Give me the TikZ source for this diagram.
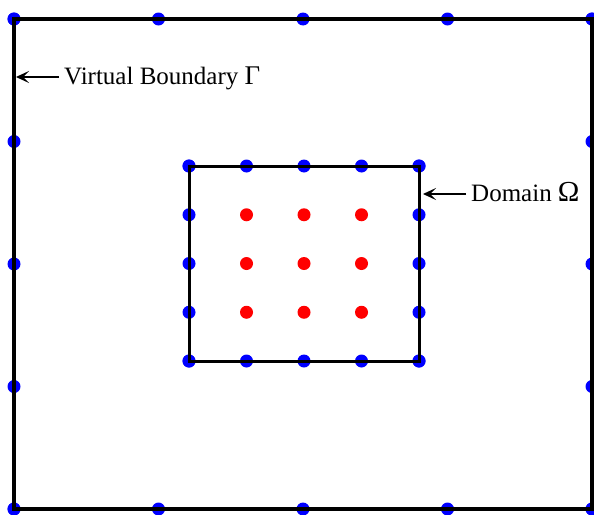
\documentclass[tikz,border=0pt]{standalone}
\usepackage{fontspec}
\setmainfont{Liberation Serif}
\usetikzlibrary{arrows.meta}
\begin{document}
\begin{tikzpicture}[x=1pt,y=-1pt,
  bdot/.style={circle,fill=blue,inner sep=0pt,minimum size=13pt},
  rdot/.style={circle,fill=red,inner sep=0pt,minimum size=13pt},
  frame/.style={draw=black,line width=3.5pt},
  lbl/.style={font=\fontsize{25}{29}\selectfont,inner sep=0pt,anchor=base west},
  pointer/.style={-{Stealth[length=13pt,width=12pt,inset=6pt]},line width=1.3pt}]
  \useasboundingbox (0,0) rectangle (594,514);

  % boundary points on the outer (virtual) square
  \foreach \i in {0,...,4} {
    \node[bdot] (ot\i) at ({14+\i*144.5},19) {};
    \node[bdot] (ob\i) at ({14+\i*144.5},509) {};
    \node[bdot] (ol\i) at (14,{19+\i*122.5}) {};
    \node[bdot] (or\i) at (592,{19+\i*122.5}) {};
  }
  % boundary points on the domain
  \foreach \i in {0,...,4} {
    \node[bdot] (it\i) at ({189+\i*57.5},166) {};
    \node[bdot] (ib\i) at ({189+\i*57.5},361) {};
    \node[bdot] (il\i) at (189,{166+\i*48.75}) {};
    \node[bdot] (ir\i) at (419,{166+\i*48.75}) {};
  }
  % interior points
  \foreach \i in {1,2,3} \foreach \j in {1,2,3}
    \node[rdot] (p\i\j) at ({189+\i*57.5},{166+\j*48.75}) {};

  % squares
  \draw[frame] (14,19) rectangle (592,509);
  \draw[frame,line width=3pt] (189,166) rectangle (419,361);

  % labels
  \node[lbl] (gam) at (64,84) {Virtual Boundary {\fontsize{27}{29}\selectfont Γ}};
  \coordinate (gamtip) at (16,77);
  \coordinate (gamtail) at (59,77);
  \draw[pointer] (gamtail) -- (gamtip);

  \node[lbl] (om) at (471,201) {Domain {\fontsize{29}{29}\selectfont Ω}};
  \coordinate (omtip) at (423,194);
  \coordinate (omtail) at (466,194);
  \draw[pointer] (omtail) -- (omtip);
\end{tikzpicture}
\end{document}
